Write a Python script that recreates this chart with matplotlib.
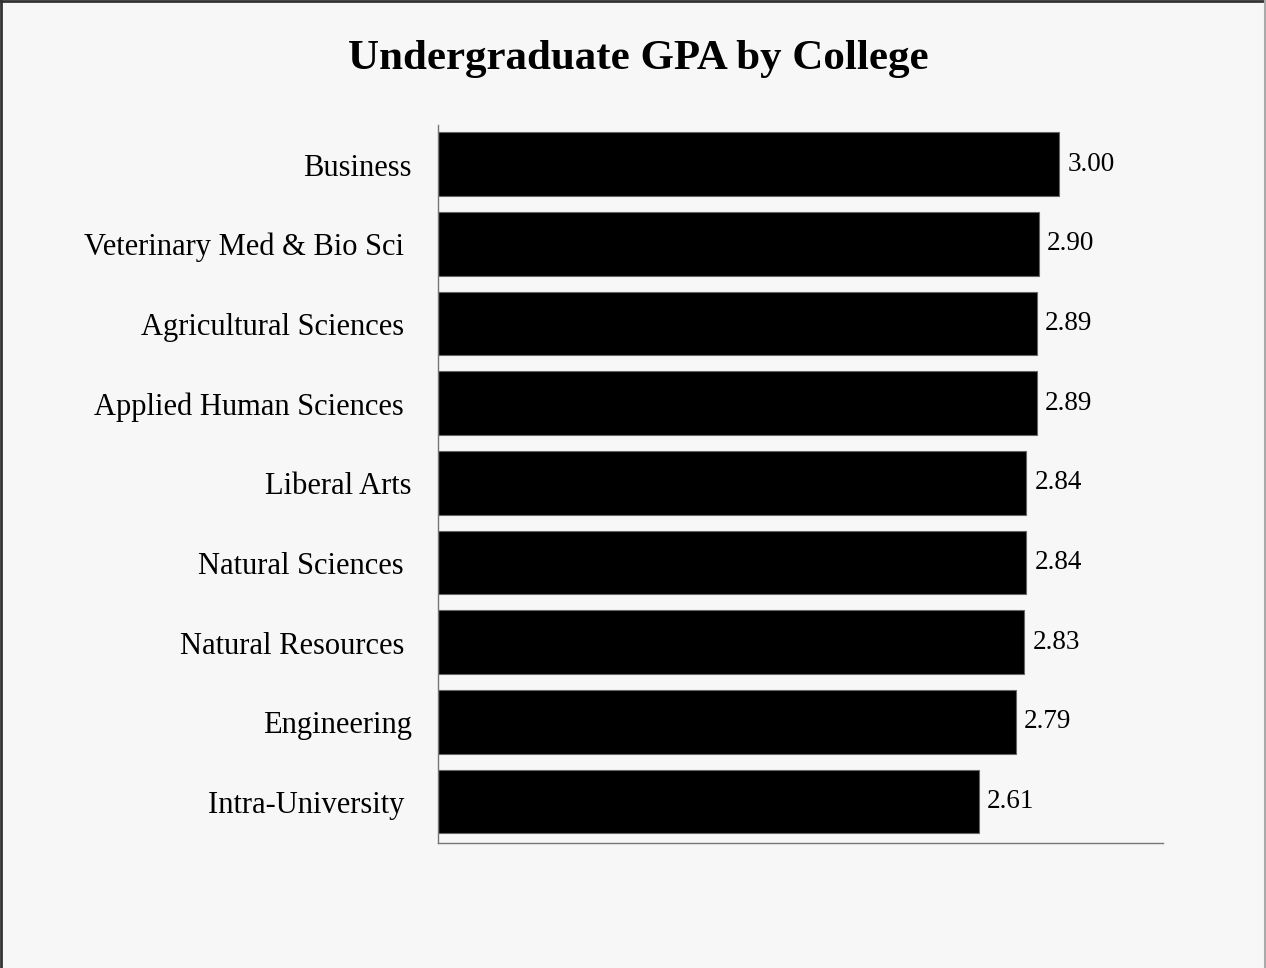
import matplotlib.pyplot as plt
from matplotlib.lines import Line2D
from matplotlib.transforms import ScaledTranslation

# data
colleges = ['Business', 'Veterinary Med & Bio Sci ', 'Agricultural Sciences ',
            'Applied Human Sciences ', 'Liberal Arts', 'Natural Sciences ',
            'Natural Resources ', 'Engineering', 'Intra-University ']
gpa = [3.00, 2.90, 2.89, 2.89, 2.84, 2.84, 2.83, 2.79, 2.61]

plt.rcParams['font.family'] = ['Liberation Serif', 'DejaVu Serif']

bg = '#f7f7f7'
fig = plt.figure(figsize=(12.66, 9.68), dpi=100, facecolor=bg)
ax = fig.add_axes([0.346, 0.1291, 0.5726, 0.7418])
ax.set_facecolor(bg)

pos = list(range(len(colleges)))[::-1]
bars = ax.barh(pos, gpa, height=0.8, color='black', edgecolor='#666666', linewidth=0.8)
for b, v in zip(bars, gpa):
    ax.text(b.get_width() + 0.04, b.get_y() + b.get_height() / 2, f'{v:.2f}',
            va='center', ha='left', fontsize=19.5)

ax.set_xlim(0, 3.5)
ax.set_ylim(-0.52, 8.49)
ax.set_yticks(pos)
ax.set_yticklabels(colleges, fontsize=22, va='center')
ax.tick_params(axis='y', length=0, pad=19)
# nudge tick labels down a little
shift = ScaledTranslation(0, -4 / 100, fig.dpi_scale_trans)
for lbl in ax.get_yticklabels():
    lbl.set_transform(lbl.get_transform() + shift)
ax.set_xticks([])
for s in ['top', 'right']:
    ax.spines[s].set_visible(False)
for s in ['left', 'bottom']:
    ax.spines[s].set_color('#777777')
    ax.spines[s].set_linewidth(1)

fig.text(0.504, 0.939, 'Undergraduate GPA by College', ha='center', va='center',
         fontsize=31, fontweight='bold')

# outer border: dark on top/left, light on right
fig.add_artist(Line2D([0.001, 0.001], [0, 1], transform=fig.transFigure, color='#333333', lw=2))
fig.add_artist(Line2D([0, 1], [0.999, 0.999], transform=fig.transFigure, color='#333333', lw=2))
fig.add_artist(Line2D([0.9995, 0.9995], [0, 1], transform=fig.transFigure, color='#aaaaaa', lw=1.5))

fig.savefig('out.png', dpi=100, facecolor=bg)
